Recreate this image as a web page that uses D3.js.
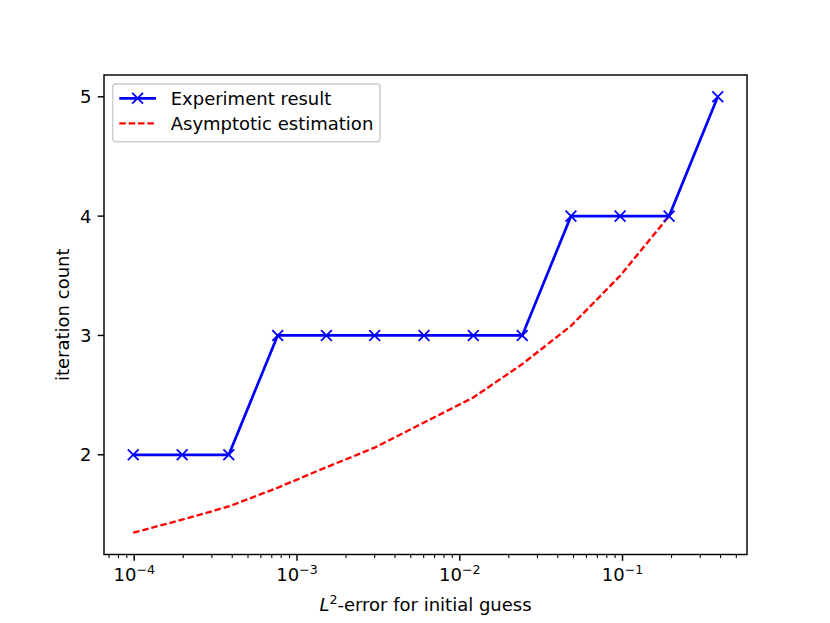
<!DOCTYPE html>
<html>
<head>
<meta charset="utf-8">
<script src="https://cdn.jsdelivr.net/npm/d3@7"></script>
<style>
  body { margin: 0; background: #fff; }
  svg text { font-family: "DejaVu Sans", sans-serif; fill: #000; }
</style>
</head>
<body>
<div id="chart"></div>
<script>
// values
var errors = [9.86e-5, 1.97e-4, 3.81e-4, 7.61e-4, 1.516e-3, 3.0e-3, 6.03e-3, 1.211e-2, 2.42e-2, 4.82e-2, 9.66e-2, 0.1932, 0.3846]
var iterations = [2, 2, 2, 3, 3, 3, 3, 3, 3, 4, 4, 4, 5]
var estErrors = errors.slice(0, 12)
var estimation = [1.347, 1.456, 1.567, 1.724, 1.896, 2.06, 2.27, 2.48, 2.76, 3.08, 3.50, 4.0]
var xTicks = [1e-4, 1e-3, 1e-2, 1e-1]
var yTicks = [2, 3, 4, 5]
var seriesNames = ['Experiment result', 'Asymptotic estimation']

var W = 830
var H = 623
// axes box (window.top is read-only, so no "top" here)
var axL = 104, axR = 747, axT = 75, axB = 554.5
var s = 129.7 / 72 // pt -> px
var redDash = [3.6 * s, 1.6 * s].join(',')
var redWidth = 1.3 * s

var svg = d3.select('#chart').append('svg')
  .attr('width', W)
  .attr('height', H)

// matplotlib style 5% margins (log space for x)
var lx = d3.extent(errors.concat(estErrors)).map(Math.log10)
var mx = (lx[1] - lx[0]) * 0.05
var x = d3.scaleLog()
  .domain([Math.pow(10, lx[0] - mx), Math.pow(10, lx[1] + mx)])
  .range([axL, axR])

var ly = d3.extent(iterations.concat(estimation))
var my = (ly[1] - ly[0]) * 0.05
var y = d3.scaleLinear()
  .domain([ly[0] - my, ly[1] + my])
  .range([axB, axT])

var g = svg.append('g')

// minor ticks for the log axis
var minor = []
for (var e = -5; e <= 0; e++) {
  for (var m = 2; m <= 9; m++) {
    var v = m * Math.pow(10, e)
    if (v >= x.domain()[0] && v <= x.domain()[1]) minor.push(v)
  }
}
g.selectAll('line.minor').data(minor).enter().append('line')
  .attr('class', 'minor')
  .attr('x1', function (d) { return x(d) })
  .attr('x2', function (d) { return x(d) })
  .attr('y1', axB)
  .attr('y2', axB + 2 * s)
  .attr('stroke', '#000')
  .attr('stroke-width', 0.6 * s)

g.selectAll('line.xmajor').data(xTicks).enter().append('line')
  .attr('class', 'xmajor')
  .attr('x1', function (d) { return x(d) })
  .attr('x2', function (d) { return x(d) })
  .attr('y1', axB)
  .attr('y2', axB + 3.5 * s)
  .attr('stroke', '#000')
  .attr('stroke-width', 0.8 * s)

var xl = g.selectAll('text.xlab').data(xTicks).enter().append('text')
  .attr('class', 'xlab')
  .attr('x', function (d) { return x(d) })
  .attr('y', 581)
  .attr('text-anchor', 'middle')
  .style('font-size', '18px')
xl.append('tspan').text('10')
xl.append('tspan')
  .attr('dy', -7.5)
  .style('font-size', '12.6px')
  .text(function (d) { return '\u2212' + Math.round(-Math.log10(d)) })

g.selectAll('line.ymajor').data(yTicks).enter().append('line')
  .attr('class', 'ymajor')
  .attr('x1', axL - 3.5 * s)
  .attr('x2', axL)
  .attr('y1', function (d) { return y(d) })
  .attr('y2', function (d) { return y(d) })
  .attr('stroke', '#000')
  .attr('stroke-width', 0.8 * s)

g.selectAll('text.ylab').data(yTicks).enter().append('text')
  .attr('class', 'ylab')
  .attr('x', axL - 3.5 * s - 6.3)
  .attr('y', function (d) { return y(d) })
  .attr('dy', '0.36em')
  .attr('text-anchor', 'end')
  .style('font-size', '18px')
  .text(function (d) { return d })

// axis labels
var xt = svg.append('text')
  .attr('x', (axL + axR) / 2)
  .attr('y', 611)
  .attr('text-anchor', 'middle')
  .style('font-size', '18px')
xt.append('tspan').style('font-style', 'italic').text('L')
xt.append('tspan').attr('dy', -7.5).style('font-size', '12.6px').text('2')
xt.append('tspan').attr('dy', 7.5).text('-error for initial guess')

svg.append('text')
  .attr('transform', 'translate(69,' + (axT + axB) / 2 + ') rotate(-90)')
  .attr('text-anchor', 'middle')
  .style('font-size', '18px')
  .text('iteration count')

// plot lines
var lineGen = d3.line()
  .x(function (d) { return x(d[0]) })
  .y(function (d) { return y(d[1]) })

var plot = svg.append('g')
plot.append('path')
  .datum(d3.zip(estErrors, estimation))
  .attr('d', lineGen)
  .attr('fill', 'none')
  .attr('stroke', '#ff0000')
  .attr('stroke-width', redWidth)
  .attr('stroke-dasharray', redDash)

var expData = d3.zip(errors, iterations)
plot.append('path')
  .datum(expData)
  .attr('d', lineGen)
  .attr('fill', 'none')
  .attr('stroke', '#0000ff')
  .attr('stroke-width', 1.5 * s)

var ms = 3 * s
plot.selectAll('path.mark').data(expData).enter().append('path')
  .attr('class', 'mark')
  .attr('d', function (d) {
    var cx = x(d[0]), cy = y(d[1])
    return 'M' + (cx - ms) + ',' + (cy - ms) + 'L' + (cx + ms) + ',' + (cy + ms) +
      'M' + (cx - ms) + ',' + (cy + ms) + 'L' + (cx + ms) + ',' + (cy - ms)
  })
  .attr('stroke', '#0000ff')
  .attr('stroke-width', 1 * s)

// frame
svg.append('rect')
  .attr('x', axL)
  .attr('y', axT)
  .attr('width', axR - axL)
  .attr('height', axB - axT)
  .attr('fill', 'none')
  .attr('stroke', '#000')
  .attr('stroke-width', 0.8 * s)

// legend
var lg = svg.append('g')
lg.append('rect')
  .attr('x', 112.7)
  .attr('y', 84)
  .attr('width', 267.3)
  .attr('height', 57.7)
  .attr('rx', 3)
  .attr('fill', '#fff')
  .attr('fill-opacity', 0.8)
  .attr('stroke', '#cccccc')
  .attr('stroke-width', 1.4)

var rows = [98.3, 123.3]
lg.append('line')
  .attr('x1', 119.3).attr('x2', 156)
  .attr('y1', rows[0]).attr('y2', rows[0])
  .attr('stroke', '#0000ff')
  .attr('stroke-width', 1.5 * s)
lg.append('path')
  .attr('d', 'M' + (137.6 - ms) + ',' + (rows[0] - ms) + 'L' + (137.6 + ms) + ',' + (rows[0] + ms) +
    'M' + (137.6 - ms) + ',' + (rows[0] + ms) + 'L' + (137.6 + ms) + ',' + (rows[0] - ms))
  .attr('stroke', '#0000ff')
  .attr('stroke-width', 1 * s)
lg.append('line')
  .attr('x1', 119.3).attr('x2', 156)
  .attr('y1', rows[1]).attr('y2', rows[1])
  .attr('stroke', '#ff0000')
  .attr('stroke-width', redWidth)
  .attr('stroke-dasharray', redDash)

lg.selectAll('text').data(seriesNames).enter().append('text')
  .attr('x', 170.7)
  .attr('y', function (d, i) { return rows[i] })
  .attr('dy', '0.36em')
  .style('font-size', '18px')
  .text(function (d) { return d })
</script>
</body>
</html>
